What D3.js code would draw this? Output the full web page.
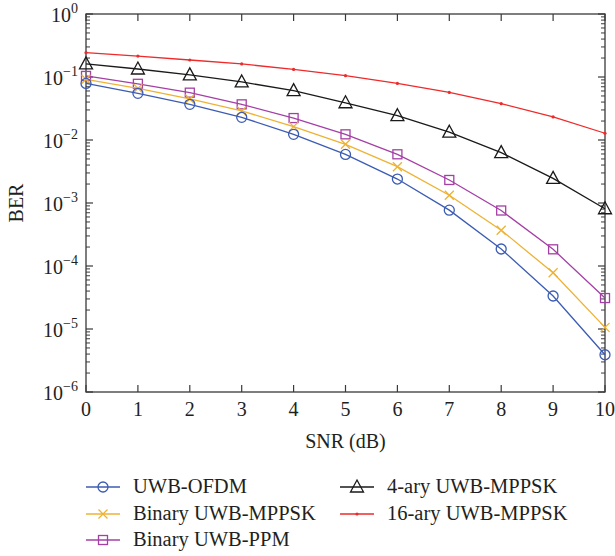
<!DOCTYPE html>
<html><head><meta charset="utf-8">
<script src="https://cdn.jsdelivr.net/npm/d3@7"></script>
<style>body{margin:0;background:#fff}svg{display:block}text{font-family:"Liberation Serif","Times New Roman",serif;fill:#231f20}</style>
</head><body><svg id="c" width="615" height="556"></svg>
<script>
const snr = [0,1,2,3,4,5,6,7,8,9,10];
const xTicks = [0,1,2,3,4,5,6,7,8,9,10];
const yExponents = [0,-1,-2,-3,-4,-5,-6];
const berOFDM = [0.079,0.055,0.0368,0.0229,0.0123,0.0059,0.0024,0.00077,0.000186,3.34e-5,3.9e-6];
const berBinMPPSK = [0.092,0.066,0.0448,0.0289,0.0163,0.00855,0.00377,0.00133,0.00037,7.8e-5,1.06e-5];
const berPPM = [0.104,0.078,0.0564,0.0368,0.0223,0.0123,0.00593,0.00232,0.00076,0.000184,3.1e-5];
const ber4MPPSK = [0.161,0.134,0.108,0.0834,0.0607,0.039,0.0243,0.0133,0.0063,0.00246,0.00081];
const ber16MPPSK = [0.243,0.215,0.186,0.161,0.132,0.105,0.079,0.057,0.0377,0.0232,0.0128];
const seriesNames = ["UWB-OFDM","Binary UWB-MPPSK","Binary UWB-PPM","4-ary UWB-MPPSK","16-ary UWB-MPPSK"];

const series = [
  {name:seriesNames[0], values:berOFDM, color:"#3c5cb4", marker:"circle"},
  {name:seriesNames[1], values:berBinMPPSK, color:"#eeb233", marker:"x"},
  {name:seriesNames[2], values:berPPM, color:"#a43fa6", marker:"square"},
  {name:seriesNames[3], values:ber4MPPSK, color:"#1a1a1a", marker:"triangle"},
  {name:seriesNames[4], values:ber16MPPSK, color:"#ee2a2a", marker:"dot"}
];

const svg = d3.select("#c");
const L=86, R=605, T=14, B=392;
const x = d3.scaleLinear().domain([0,10]).range([L,R]);
const y = d3.scaleLog().domain([1e-6,1]).range([B,T]);
const axisColor="#3a3a3a";
const fs=20;

const g = svg.append("g");
const tl=7, ml=4;
xTicks.forEach(t=>{
  g.append("line").attr("x1",x(t)).attr("x2",x(t)).attr("y1",B).attr("y2",B-tl).attr("stroke",axisColor).attr("stroke-width",1.2);
  g.append("line").attr("x1",x(t)).attr("x2",x(t)).attr("y1",T).attr("y2",T+tl).attr("stroke",axisColor).attr("stroke-width",1.2);
  g.append("text").attr("x",x(t)).attr("y",416).attr("text-anchor","middle").attr("font-size",fs).text(t);
});
yExponents.forEach(e=>{
  const v=Math.pow(10,e);
  [[L,1],[R,-1]].forEach(([px,d])=>{
    g.append("line").attr("x1",px).attr("x2",px+d*tl).attr("y1",y(v)).attr("y2",y(v)).attr("stroke",axisColor).attr("stroke-width",1.2);
    if(e>-6) for(let k=2;k<=9;k++){
      const mv=v*k/10;
      g.append("line").attr("x1",px).attr("x2",px+d*ml).attr("y1",y(mv)).attr("y2",y(mv)).attr("stroke",axisColor).attr("stroke-width",1);
    }
  });
  const t=g.append("text").attr("x",78).attr("y",y(v)+8).attr("text-anchor","end").attr("font-size",fs);
  t.append("tspan").text("10");
  t.append("tspan").attr("dy",-9).attr("font-size",14).text(e===0?"0":"\u2212"+(-e));
});
g.append("rect").attr("x",L).attr("y",T).attr("width",R-L).attr("height",B-T).attr("fill","none").attr("stroke",axisColor).attr("stroke-width",1.3);

svg.append("text").attr("x",(L+R)/2).attr("y",448).attr("text-anchor","middle").attr("font-size",fs).text("SNR (dB)");
svg.append("text").attr("transform","translate(23,203) rotate(-90)").attr("text-anchor","middle").attr("font-size",fs).text("BER");

function drawMarker(sel, type, cx, cy, color){
  if(type==="circle") sel.append("circle").attr("cx",cx).attr("cy",cy).attr("r",5).attr("fill","none").attr("stroke",color).attr("stroke-width",1.3);
  else if(type==="square") sel.append("rect").attr("x",cx-4.5).attr("y",cy-4.5).attr("width",9).attr("height",9).attr("fill","none").attr("stroke",color).attr("stroke-width",1.3);
  else if(type==="x"){ const s=4.5;
    sel.append("path").attr("d",`M${cx-s},${cy-s}L${cx+s},${cy+s}M${cx-s},${cy+s}L${cx+s},${cy-s}`).attr("stroke",color).attr("stroke-width",1.3).attr("fill","none");}
  else if(type==="triangle"){ const s=6;
    sel.append("path").attr("d",`M${cx},${cy-s-1}L${cx+s+0.5},${cy+s-1}L${cx-s-0.5},${cy+s-1}Z`).attr("stroke",color).attr("stroke-width",1.3).attr("fill","none");}
  else if(type==="dot") sel.append("circle").attr("cx",cx).attr("cy",cy).attr("r",1.6).attr("fill",color);
}

const line = d3.line().x((d,i)=>x(snr[i])).y(d=>y(d));
[4,3,2,1,0].forEach(si=>{
  const s=series[si];
  const sg=svg.append("g");
  sg.append("path").attr("d",line(s.values)).attr("fill","none").attr("stroke",s.color).attr("stroke-width",1.3);
  s.values.forEach((v,i)=>drawMarker(sg,s.marker,x(snr[i]),y(v),s.color));
});

const legPos=[[86,487],[86,514],[86,540],[340,487],[340,514]];
series.forEach((s,i)=>{
  const [lx,ly]=legPos[i];
  const lg=svg.append("g");
  lg.append("line").attr("x1",lx).attr("x2",lx+34).attr("y1",ly).attr("y2",ly).attr("stroke",s.color).attr("stroke-width",1.3);
  drawMarker(lg,s.marker,lx+17,ly,s.color);
  lg.append("text").attr("x",lx+47).attr("y",ly+6).attr("font-size",20.5).text(s.name);
});
</script></body></html>
